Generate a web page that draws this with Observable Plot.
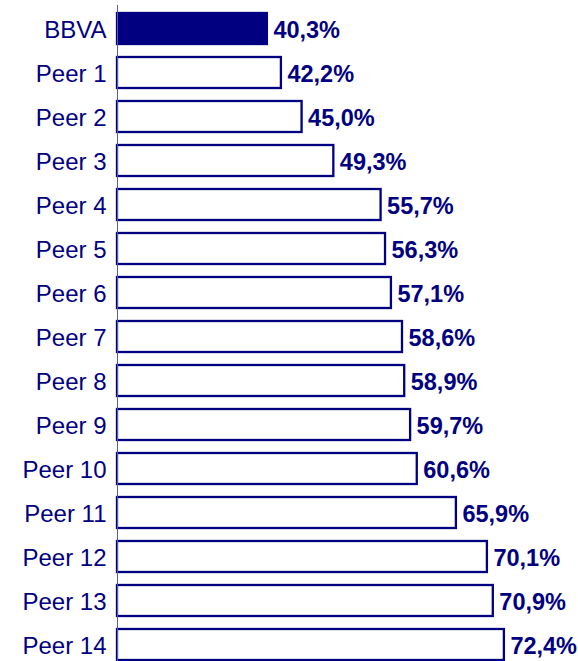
<!DOCTYPE html>
<html>
<head>
<meta charset="utf-8">
<script src="https://cdn.jsdelivr.net/npm/d3@7"></script>
<script src="https://cdn.jsdelivr.net/npm/@observablehq/plot@0.6"></script>
<style>
  html, body { margin: 0; padding: 0; background: #fff; }
  #chart svg { display: block; }
</style>
</head>
<body>
<div id="chart"></div>
<script>
const categories = ["BBVA", "Peer 1", "Peer 2", "Peer 3", "Peer 4", "Peer 5", "Peer 6", "Peer 7", "Peer 8", "Peer 9", "Peer 10", "Peer 11", "Peer 12", "Peer 13", "Peer 14"];
const values = [40.3, 42.2, 45.0, 49.3, 55.7, 56.3, 57.1, 58.6, 58.9, 59.7, 60.6, 65.9, 70.1, 70.9, 72.4];
const highlight = "BBVA";
const axisStart = 20;

const data = categories.map((name, i) => ({name, value: values[i]}));
const fmt = v => v.toFixed(1).replace(".", ",") + "%";
const navy = "#000080";

const chart = Plot.plot({
  width: 578,
  height: 661,
  marginLeft: 117,
  marginRight: 18,
  marginTop: 5,
  marginBottom: 0,
  style: {fontFamily: "'Liberation Sans', Arial, sans-serif", background: "white"},
  x: {domain: [axisStart, 80], axis: null},
  y: {domain: categories, range: [6.5, 666.5], paddingInner: 0.3, paddingOuter: 0.15, axis: null},
  marks: [
    Plot.barX(data, {
      y: "name", x1: axisStart, x2: "value",
      fill: d => d.name === highlight ? navy : "white",
      stroke: navy, strokeWidth: 2.3
    }),
    Plot.ruleX([axisStart], {stroke: "#5a5aa8", strokeWidth: 1}),
    Plot.text(data, {
      y: "name", x: axisStart, text: "name",
      textAnchor: "end", dx: -11, dy: 1, fontSize: 24, fill: navy
    }),
    Plot.text(data, {
      y: "name", x: "value", text: d => fmt(d.value),
      textAnchor: "start", dx: 6, dy: 1, fontSize: 23.5, fontWeight: "bold", fill: navy
    })
  ]
});
document.getElementById("chart").appendChild(chart);
</script>
</body>
</html>
